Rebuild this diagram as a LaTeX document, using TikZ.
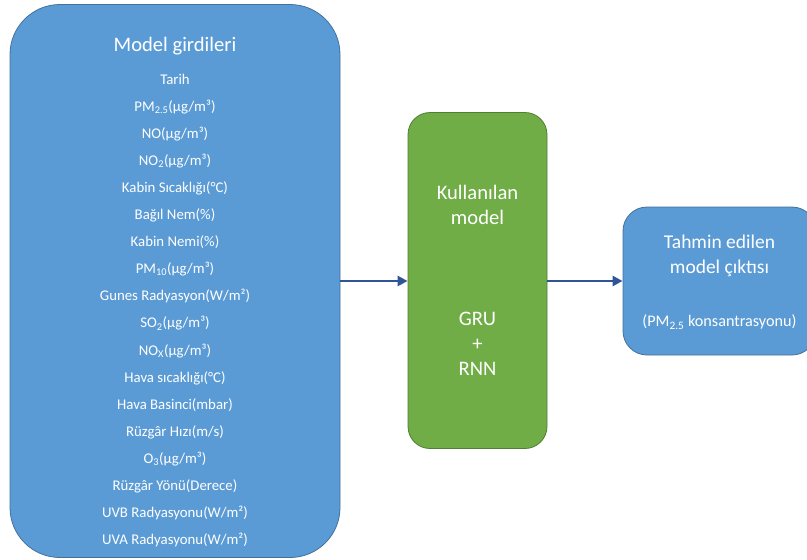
\documentclass[tikz,border=0pt]{standalone}
\usepackage{fontspec}
\setmainfont{Carlito}
\usetikzlibrary{arrows.meta}

\definecolor{inblue}{HTML}{5B9BD5}
\definecolor{inblueedge}{HTML}{41719C}
\definecolor{modgreen}{HTML}{70AD47}
\definecolor{modgreenedge}{HTML}{507E32}
\definecolor{arrowblue}{HTML}{2F5597}

\tikzset{
  bluebox/.style={draw=inblueedge, fill=inblue, line width=0.8pt, inner sep=0pt},
  greenbox/.style={draw=modgreenedge, fill=modgreen, line width=0.8pt, inner sep=0pt},
  listitem/.style={text=white, anchor=base, inner sep=0pt, font=\fontsize{14.8}{17}\selectfont},
  headtext/.style={text=white, anchor=base, inner sep=0pt, font=\fontsize{20.6}{24}\selectfont},
  flowarrow/.style={draw=arrowblue, line width=2.8pt, -{Triangle[length=10pt,width=10pt]}},
}

\begin{document}
\begin{tikzpicture}[x=1pt,y=-1pt]
\useasboundingbox (0,0) rectangle (807,560);
\begin{scope}
\clip (0,0) rectangle (807,560);

% input features
\node[bluebox, minimum width=330pt, minimum height=553pt, rounded corners=50pt] (inputs) at (175,281) {};
\node[headtext] (intitle) at (175,51.7) {Model girdileri};
\foreach \txt [count=\i from 0] in {
  {Tarih},
  {PM\textsubscript{2.5}(µg/m³)},
  {NO(µg/m³)},
  {NO\textsubscript{2}(µg/m³)},
  {Kabin Sıcaklığı(°C)},
  {Bağıl Nem(\%)},
  {Kabin Nemi(\%)},
  {PM\textsubscript{10}(µg/m³)},
  {Gunes Radyasyon(W/m²)},
  {SO\textsubscript{2}(µg/m³)},
  {NO\textsubscript{X}(µg/m³)},
  {Hava sıcaklığı(°C)},
  {Hava Basinci(mbar)},
  {Rüzgâr Hızı(m/s)},
  {O\textsubscript{3}(µg/m³)},
  {Rüzgâr Yönü(Derece)},
  {UVB Radyasyonu(W/m²)},
  {UVA Radyasyonu(W/m²)}}
  \node[listitem] (item\i) at (175,{84+27.1*\i}) {\txt};

% model
\node[greenbox, minimum width=139pt, minimum height=336pt, rounded corners=22pt] (model) at (477.5,280.5) {};
\node[headtext] (m1) at (477.5,199.3) {Kullanılan};
\node[headtext] (m2) at (477.5,224.3) {model};
\node[headtext] (m3) at (477.5,325) {GRU};
\node[headtext] (m4) at (477.5,350) {+};
\node[headtext] (m5) at (477.5,375) {RNN};

% output
\node[bluebox, minimum width=193pt, minimum height=148pt, rounded corners=24pt] (output) at (719.5,281) {};
\node[headtext, font=\fontsize{19.5}{23}\selectfont] (o1) at (719.5,248.3) {Tahmin edilen};
\node[headtext, font=\fontsize{19.5}{23}\selectfont] (o2) at (719.5,273.3) {model çıktısı};
\node[listitem, font=\fontsize{16.2}{19}\selectfont] (o3) at (719.5,326.7) {(PM\textsubscript{2.5} konsantrasyonu)};

% connectors
\draw[flowarrow] (inputs.east) -- (inputs.east -| model.west);
\draw[flowarrow] (model.east |- output.west) -- (output.west);
\end{scope}
\end{tikzpicture}
\end{document}
